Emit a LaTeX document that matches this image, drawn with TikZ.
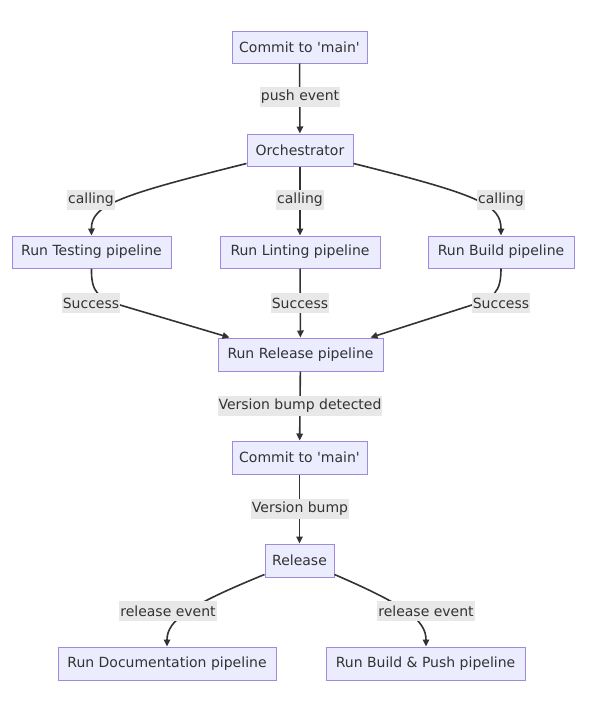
\documentclass[tikz,border=0pt]{standalone}
\usepackage{fontspec}
\setmainfont{DejaVu Sans}
\usetikzlibrary{arrows.meta}
\definecolor{nodefill}{HTML}{ECECFF}
\definecolor{nodeline}{HTML}{A08AE0}
\definecolor{edgecol}{HTML}{333333}
\definecolor{lblfill}{HTML}{E8E8E8}
\begin{document}
\begin{tikzpicture}[x=1pt,y=-1pt,
  box/.style={draw=nodeline,fill=nodefill,line width=1pt,minimum height=32pt,inner sep=0pt,font=\fontsize{14}{16}\selectfont,text=edgecol},
  lbl/.style={fill=lblfill,inner xsep=1pt,inner ysep=0pt,minimum height=20pt,font=\fontsize{14}{16}\selectfont,text=edgecol},
  edge/.style={draw=edgecol,line width=1.6pt,-{Triangle[length=7pt,width=6.5pt]}}]
\useasboundingbox (0,0) rectangle (589,712);
% nodes
\node[box,minimum width=135pt] (c1) at (299.5,47) {Commit to \textquotesingle main\textquotesingle};
\node[box,minimum width=106pt] (orch) at (300,150) {Orchestrator};
\node[box,minimum width=159pt] (test) at (91.5,252) {Run Testing pipeline};
\node[box,minimum width=160pt] (lint) at (300,252) {Run Linting pipeline};
\node[box,minimum width=146pt] (build) at (501,252) {Run Build pipeline};
\node[box,minimum width=165pt,minimum height=33pt] (rel) at (300.5,354.5) {Run Release pipeline};
\node[box,minimum width=135pt,minimum height=33pt] (c2) at (299.5,457.5) {Commit to \textquotesingle main\textquotesingle};
\node[box,minimum width=69pt,minimum height=33pt] (release) at (299.5,560.5) {Release};
\node[box,minimum width=218pt,minimum height=33pt] (doc) at (167,663.5) {Run Documentation pipeline};
\node[box,minimum width=199pt,minimum height=33pt] (bp) at (425.5,663.5) {Run Build \& Push pipeline};
% edges
\draw[edge] (c1) -- (orch);
\draw[edge] (orch) -- (lint);
\draw[edge] (lint) -- (rel);
\draw[edge] (rel) -- (c2);
\draw[edge] (c2) -- (release);
\draw[edge] ([yshift=3pt]orch.south west) .. controls (120,195) and (91,205) .. (test.north);
\draw[edge] ([yshift=3pt]orch.south east) .. controls (480,195) and (501,205) .. (build.north);
\draw[edge] (test.south) .. controls (91,292) and (98,298) .. (120,305) -- ([xshift=12pt]rel.north west);
\draw[edge] (build.south) .. controls (501,292) and (494,298) .. (472,305) -- ([xshift=-13pt]rel.north east);
\draw[edge] ([yshift=3pt]release.south west) .. controls (190,605) and (167,620) .. (doc.north);
\draw[edge] ([yshift=3pt]release.south east) .. controls (405,605) and (426,620) .. ([xshift=0.5pt]bp.north);
% labels
\node[lbl] (l1) at (300,97) {push event};
\node[lbl] (l2) at (91,200) {calling};
\node[lbl] (l3) at (300,200) {calling};
\node[lbl] (l4) at (501,200) {calling};
\node[lbl] (l5) at (91,303) {Success};
\node[lbl] (l6) at (300,303) {Success};
\node[lbl] (l7) at (501,303) {Success};
\node[lbl] (l8) at (300,406) {Version bump detected};
\node[lbl] (l9) at (300,509) {Version bump};
\node[lbl] (l10) at (168,611) {release event};
\node[lbl] (l11) at (426,611) {release event};
\end{tikzpicture}
\end{document}
